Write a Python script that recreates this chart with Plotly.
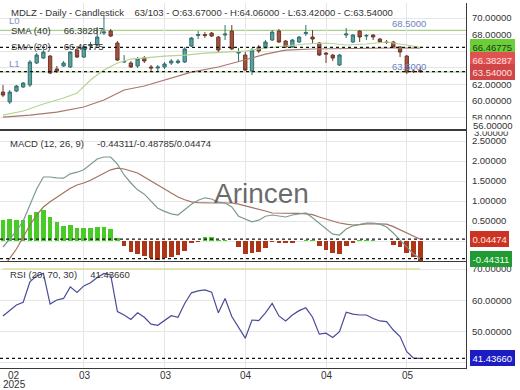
import plotly.graph_objects as go

# ---------------- data ----------------
idx = list(range(63))

opens = [61.08, 59.88, 61.20, 61.69, 61.93, 64.58, 65.18, 65.42, 63.86, 64.22,
         64.10, 66.14, 65.30, 66.63, 66.75, 68.19, 68.43, 66.99, 64.70, 64.58,
         64.22, 65.18, 64.10, 63.98, 64.10, 64.58, 64.64, 64.70, 66.63, 67.89,
         68.01, 68.19, 67.71, 67.95, 68.43, 65.78, 65.54, 63.61, 66.51, 66.39,
         67.35, 68.43, 67.23, 66.51, 67.11, 68.13, 67.71, 66.99, 65.78, 65.54,
         64.34, 67.95, 67.11, 68.43, 67.83, 67.95, 67.47, 67.11, 67.11, 66.51,
         65.42, 63.61, 63.67]
highs = [61.93, 61.33, 61.93, 62.29, 64.94, 65.78, 66.14, 65.54, 64.22, 64.82,
         66.02, 66.63, 66.75, 67.11, 68.92, 70.40, 68.67, 67.23, 65.54, 64.82,
         65.30, 65.42, 64.34, 64.34, 64.70, 65.06, 65.06, 66.51, 67.71, 68.43,
         68.31, 68.31, 67.83, 69.16, 69.16, 66.39, 65.90, 66.39, 66.75, 67.35,
         68.55, 68.67, 67.35, 67.47, 67.83, 69.16, 68.55, 67.11, 65.90, 65.66,
         65.66, 68.80, 68.07, 68.55, 68.07, 68.07, 67.59, 67.35, 67.23, 66.63,
         65.54, 63.73, 64.06]
lows = [60.48, 59.64, 61.08, 61.57, 61.69, 64.46, 65.06, 63.25, 63.37, 64.10,
        63.98, 65.18, 65.18, 66.14, 66.63, 67.95, 67.71, 64.82, 64.58, 63.98,
        63.98, 64.58, 63.61, 63.61, 63.86, 64.34, 64.46, 64.58, 66.51, 67.47,
        67.59, 67.71, 65.78, 67.35, 66.14, 64.70, 63.61, 63.13, 65.78, 66.27,
        67.23, 66.99, 66.39, 66.39, 66.99, 67.83, 66.99, 65.42, 64.58, 64.82,
        64.22, 67.59, 66.99, 67.11, 67.35, 67.35, 66.99, 66.87, 66.39, 65.30,
        63.25, 63.37, 63.42]
closes = [60.72, 61.08, 61.81, 62.17, 64.70, 65.54, 65.90, 63.37, 63.61, 64.58,
          65.90, 65.30, 66.51, 66.75, 67.71, 68.31, 67.83, 64.94, 64.76, 64.10,
          65.06, 64.82, 63.98, 64.10, 64.46, 64.82, 64.82, 66.27, 67.59, 68.01,
          67.89, 67.83, 66.14, 68.07, 66.27, 65.90, 63.73, 66.14, 66.02, 67.11,
          68.31, 67.11, 66.51, 67.35, 67.71, 68.25, 67.47, 65.54, 65.66, 65.18,
          65.54, 68.07, 67.95, 67.71, 67.89, 67.71, 67.11, 67.05, 66.51, 65.90,
          63.49, 63.55, 63.54]

sma20_idx = [0, 3, 6, 9, 11, 13, 15, 17, 19, 22, 24, 27, 30, 33, 36, 39, 42, 45,
             48, 51, 54, 57, 60, 62]
sma20 = [58.31, 58.80, 59.64, 60.36, 60.96, 62.53, 63.73, 64.58, 65.06, 65.30,
         65.42, 65.54, 65.78, 65.90, 66.02, 66.39, 66.63, 66.87, 66.99, 66.75,
         66.87, 67.11, 66.75, 66.46775]
sma40_idx = [0, 4, 8, 12, 15, 18, 21, 24, 28, 32, 35, 37, 39, 42, 46, 50, 54, 58, 62]
sma40 = [58.07, 58.31, 58.67, 59.28, 60.12, 61.33, 61.81, 62.53, 63.49, 64.10,
         64.70, 65.18, 65.66, 66.14, 66.27, 66.33, 66.39, 66.39, 66.38287]

macd = [-0.15, 0.05, 0.25, 0.50, 0.90, 1.30, 1.60, 1.60, 1.58, 1.57,
        1.68, 1.72, 1.78, 1.92, 2.05, 2.10, 2.10, 1.92, 1.65, 1.45,
        1.28, 1.17, 1.00, 0.82, 0.74, 0.68, 0.65, 0.78, 0.92, 1.02,
        1.08, 1.05, 0.97, 0.95, 0.85, 0.62, 0.55, 0.48, 0.52, 0.62,
        0.65, 0.62, 0.60, 0.65, 0.68, 0.70, 0.58, 0.45, 0.30, 0.17,
        0.15, 0.30, 0.38, 0.42, 0.45, 0.45, 0.42, 0.35, 0.20, 0.02,
        -0.15, -0.32, -0.44311]
signal = [-0.67, -0.45, -0.20, 0.10, 0.40, 0.65, 0.85, 0.98, 1.10, 1.20,
          1.32, 1.40, 1.45, 1.52, 1.60, 1.70, 1.78, 1.82, 1.80, 1.75,
          1.70, 1.60, 1.50, 1.40, 1.30, 1.20, 1.10, 1.03, 0.98, 0.96,
          0.95, 0.95, 0.95, 0.95, 0.95, 0.92, 0.88, 0.84, 0.80, 0.75,
          0.70, 0.70, 0.70, 0.70, 0.69, 0.68, 0.66, 0.60, 0.55, 0.50,
          0.45, 0.42, 0.40, 0.41, 0.43, 0.43, 0.43, 0.42, 0.36, 0.28,
          0.20, 0.12, 0.04474]
hist = [0.52, 0.54, 0.52, 0.52, 0.65, 0.73, 0.77, 0.59, 0.48, 0.37,
        0.40, 0.33, 0.33, 0.33, 0.36, 0.36, 0.31, 0.08, -0.13, -0.27,
        -0.33, -0.38, -0.43, -0.48, -0.43, -0.39, -0.35, -0.24, -0.06, -0.02,
        0.09, 0.10, 0.01, 0.02, 0.00, -0.15, -0.33, -0.29, -0.27, -0.18,
        -0.02, -0.03, -0.05, -0.04, 0.00, 0.02, 0.01, -0.13, -0.23, -0.29,
        -0.33, -0.13, -0.03, 0.02, 0.02, 0.02, 0.00, 0.00, -0.10, -0.15,
        -0.31, -0.41, -0.48785]
rsi = [55.0, 56.9, 58.5, 59.4, 65.9, 67.8, 68.6, 58.8, 60.1, 60.6,
       64.3, 62.5, 64.6, 65.6, 67.3, 68.6, 68.1, 56.4, 55.3, 53.9,
       56.0, 54.6, 52.4, 52.0, 53.7, 55.1, 54.6, 59.0, 62.4, 63.0,
       63.3, 62.6, 56.0, 60.6, 54.8, 51.3, 47.9, 53.7, 53.5, 56.0,
       59.0, 55.0, 53.4, 55.3, 56.7, 57.6, 54.6, 49.2, 49.5, 48.1,
       50.0, 56.2, 55.6, 55.3, 55.3, 54.2, 53.4, 53.2, 50.5, 48.4,
       43.6, 41.5, 41.4366]

x_label_idx = [1.5, 12, 24, 36, 48, 60]
x_label_txt = ["02", "03", "03", "04", "04", "05"]
year_label = "2025"
x_grid_idx = [12, 24, 36, 48, 60]
price_ticks = [58, 60, 62, 64, 66, 68, 70]
macd_ticks = [0, 0.5, 1.0, 1.5, 2.0, 2.5]
rsi_ticks = [40, 50, 60, 70]
level_L0 = 68.5
level_L1 = 63.5
rsi_upper = 70
last_o, last_h, last_l, last_c = 63.67, 64.06, 63.42, 63.54
sma20_last = 66.46775
sma40_last = 66.38287
macd_last, hist_last, signal_last = -0.44311, -0.48785, 0.04474
rsi_last = 41.43660

# ---------------- layout geometry ----------------
W, H = 520, 390
ML, MR, MT, MB = 0, 54, 3, 22
PW, PH = W - ML - MR, H - MT - MB


def py(ypx):
    return (H - MB - ypx) / PH


def pxx(xpx):
    return xpx / PW


FONT = "Liberation Sans, Arial, sans-serif"
FS = 9.5
TXT = "#333333"
GRID = "#e6e6e6"
AXL = "#3a3a3a"
NB = "\u00a0"

fig = go.Figure()

# price pane
fig.add_trace(go.Scatter(x=sma40_idx, y=sma40, mode="lines",
                         line=dict(color="#a8786a", width=1.2), xaxis="x", yaxis="y"))
fig.add_trace(go.Scatter(x=sma20_idx, y=sma20, mode="lines",
                         line=dict(color="#b4d494", width=1.2), xaxis="x", yaxis="y"))
fig.add_trace(go.Candlestick(
    x=idx, open=opens, high=highs, low=lows, close=closes,
    increasing=dict(line=dict(color="#35706e", width=1), fillcolor="#56a3a2"),
    decreasing=dict(line=dict(color="#6b3a2c", width=1), fillcolor="#a6503e"),
    whiskerwidth=0, xaxis="x", yaxis="y"))

# macd pane
fig.add_trace(go.Scatter(x=idx, y=signal, mode="lines",
                         line=dict(color="#a37260", width=1.2), xaxis="x2", yaxis="y2"))
fig.add_trace(go.Bar(x=idx, y=hist, width=0.68,
                     marker=dict(color=["#46cc24" if v >= 0 else "#ad3416" for v in hist],
                                 line=dict(width=0)),
                     xaxis="x2", yaxis="y2"))
fig.add_trace(go.Scatter(x=idx, y=macd, mode="lines",
                         line=dict(color="#7c9a8e", width=1.2), xaxis="x2", yaxis="y2"))

# rsi pane
fig.add_trace(go.Scatter(x=[idx[0], idx[-1]], y=[rsi_upper, rsi_upper], mode="lines",
                         line=dict(color="#dede9a", width=1.5), xaxis="x3", yaxis="y3"))
fig.add_trace(go.Scatter(x=idx, y=rsi, mode="lines",
                         line=dict(color="#4a4a98", width=1.2), xaxis="x3", yaxis="y3"))

xr = [-0.446, 68.8]
xcommon = dict(range=xr, tickvals=x_grid_idx, showgrid=True, automargin=False,
               gridcolor=GRID, gridwidth=1, zeroline=False, showline=True, linecolor=AXL,
               linewidth=1, ticks="", showticklabels=False)
ycommon = dict(side="right", showgrid=True, gridcolor=GRID, zeroline=False, showline=True,
               linecolor=AXL, linewidth=1, ticks="", ticklabelstandoff=3, automargin=False,
               tickfont=dict(family=FONT, size=FS, color=TXT), tickformat=".5f")

fig.update_layout(
    template="none",
    width=W, height=H, margin=dict(l=ML, r=MR, t=MT, b=MB, autoexpand=False),
    paper_bgcolor="white", plot_bgcolor="white", showlegend=False,
    font=dict(family=FONT, size=FS, color=TXT),
    xaxis=dict(xcommon, anchor="y", mirror=False, rangeslider=dict(visible=False)),
    xaxis2=dict(xcommon, anchor="y2", matches="x", mirror=True),
    xaxis3=dict(xcommon, anchor="y3", matches="x", mirror=True),
    yaxis=dict(ycommon, domain=[py(129), 1], range=[56.63, 71.81], tickvals=price_ticks),
    yaxis2=dict(ycommon, domain=[py(261), py(131)], range=[-0.5, 2.75], tickvals=macd_ticks),
    yaxis3=dict(ycommon, domain=[0, py(262)], range=[38.37, 72.24], tickvals=rsi_ticks),
    bargap=0,
)

shapes = []
# level lines
shapes.append(dict(type="line", xref="paper", x0=0, x1=1, yref="y", y0=level_L0, y1=level_L0,
                   line=dict(color="#a9d18e", width=1.2), layer="below"))
shapes.append(dict(type="line", xref="paper", x0=0, x1=1, yref="y", y0=level_L1, y1=level_L1,
                   line=dict(color="#a9d18e", width=1.2), layer="below"))
# dashed current-value lines
for yr, val in [("y", sma20_last), ("y", last_c), ("y2", signal_last), ("y2", macd_last),
                ("y3", rsi_last)]:
    shapes.append(dict(type="line", xref="paper", x0=0, x1=1, yref=yr, y0=val, y1=val,
                       line=dict(color="#111111", width=1.3, dash="3px,3px")))
fig.update_layout(shapes=shapes)

ann = []


def txt(x, ypx, s, color=TXT, size=FS, anchor="left"):
    ann.append(dict(xref="paper", yref="paper", x=pxx(x), y=py(ypx), text=s, showarrow=False,
                    xanchor=anchor, yanchor="middle",
                    font=dict(family=FONT, size=size, color=color)))


sp = NB * 4
txt(9, 12, "MDLZ - Daily - Candlestick" + sp + f"63/103 - O:{last_o:.5f} - H:{last_h:.5f} - "
    f"L:{last_l:.5f} - C:{last_c:.5f}")
txt(7, 20, "L0", color="#7f8fc8")
txt(9, 30, "SMA (40)" + NB * 5 + f"{sma40_last:.5f}")
txt(9, 47, "SMA (20)" + NB * 5 + f"{sma20_last:.5f}")
txt(7, 63, "L1", color="#7f8fc8")
txt(428, 23, f"{level_L0:.4f}", color="#6e80c4", anchor="right")
txt(428, 67, f"{level_L1:.4f}", color="#6e80c4", anchor="right")
txt(8, 143, "MACD (12, 26, 9)" + NB * 5 + f"{macd_last:.5f}/{hist_last:.5f}/{signal_last:.5f}")
txt(8, 274, "RSI (20, 70, 30)" + NB * 5 + f"{rsi_last:.5f}")

# watermark
ann.append(dict(xref="paper", yref="paper", x=pxx(261), y=py(193), text="Arincen",
                showarrow=False, xanchor="center", yanchor="middle",
                font=dict(family=FONT, size=28, color="rgba(80,80,80,0.85)")))

# x labels
for xi, t in zip(x_label_idx, x_label_txt):
    ann.append(dict(xref="x3", yref="paper", x=xi, y=py(376), text=t, xshift=1,
                    showarrow=False, xanchor="center", yanchor="middle",
                    font=dict(family=FONT, size=FS + 0.5, color=TXT)))
ann.append(dict(xref="x3", yref="paper", x=x_label_idx[0], y=py(384.5), text=year_label,
                xshift=1, showarrow=False, xanchor="center", yanchor="middle",
                font=dict(family=FONT, size=FS + 0.5, color=TXT)))

# clamped axis labels at the pane join
ann.append(dict(xref="paper", yref="paper", x=pxx(472), y=py(132), text="3.00000",
                showarrow=False, xanchor="left", yanchor="middle",
                font=dict(family=FONT, size=FS, color=TXT)))
ann.append(dict(xref="paper", yref="paper", x=pxx(472), y=py(125.5), text="56.00000",
                showarrow=False, xanchor="left", yanchor="middle", bgcolor="white",
                borderpad=0, font=dict(family=FONT, size=FS, color=TXT)))


def badge(yref, val, bg, fg, shift=0):
    ann.append(dict(xref="paper", yref=yref, x=1, y=val, text=f"{val:.5f}", showarrow=False,
                    xanchor="left", yanchor="middle", xshift=4, yshift=shift, bgcolor=bg,
                    bordercolor=bg, borderpad=1.5,
                    font=dict(family=FONT, size=FS, color=fg)))


badge("y", sma20_last, "#6ccc3a", "#1d3d10")
badge("y", sma40_last, "#e05252", "#ffe0e0", shift=-12)
badge("y", last_c, "#d04646", "#ffe0e0")
badge("y2", signal_last, "#cc3322", "#ffe8e0")
badge("y2", macd_last, "#229a34", "#e8ffe8")
badge("y3", rsi_last, "#1c1cc4", "#ffffff")

fig.update_layout(annotations=ann)
fig.write_html("out.html", config={"displayModeBar": False},
               post_script="document.body.style.margin='0';document.body.style.padding='0';")
